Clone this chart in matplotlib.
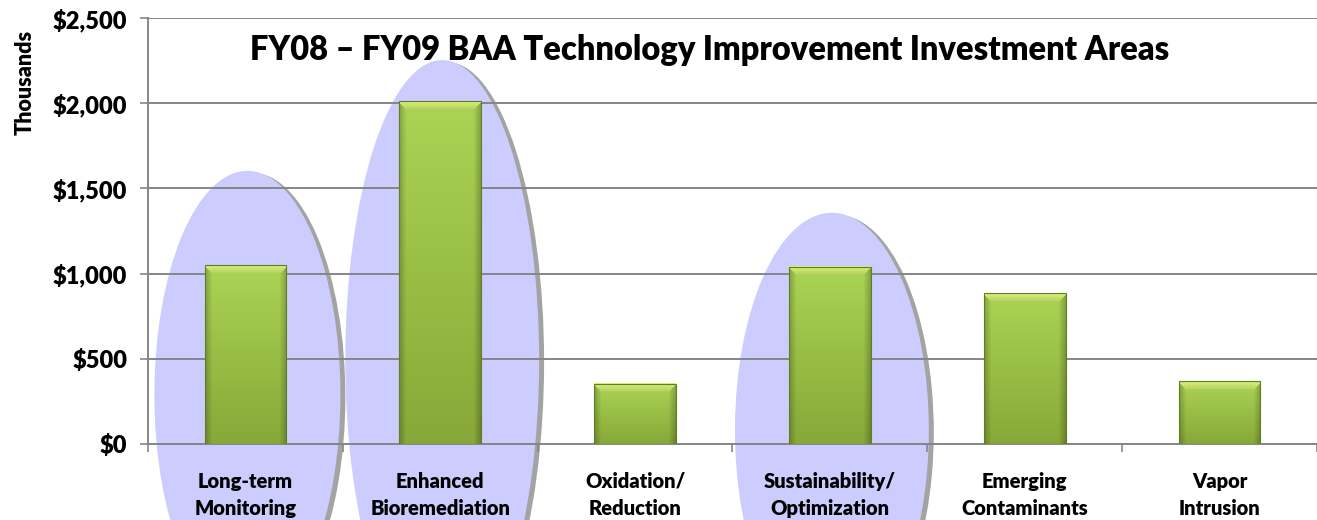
import matplotlib
matplotlib.use("Agg")
import matplotlib.pyplot as plt
import numpy as np
from matplotlib.patches import Ellipse, Rectangle
from matplotlib.ticker import FuncFormatter

plt.rcParams['font.family'] = ['Lato', 'DejaVu Sans']
WEIGHT = 'heavy'

# data (thousands of dollars)
categories = ['Long-term\nMonitoring', 'Enhanced\nBioremediation', 'Oxidation/\nReduction',
              'Sustainability/\nOptimization', 'Emerging\nContaminants', 'Vapor\nIntrusion']
values = [1050, 2010, 355, 1040, 885, 368]
y_ticks = [0, 500, 1000, 1500, 2000, 2500]
title = 'FY08 \u2013 FY09 BAA Technology Improvement Investment Areas'

# highlighted areas: (category index, center value, width in categories, height in value units)
highlights = [(0, 288, 0.955, 2630),
              (1, 493, 0.995, 3520),
              (3, 82, 0.995, 2550)]

W, H, DPI = 1317, 520, 100
fig = plt.figure(figsize=(W / DPI, H / DPI), dpi=DPI, facecolor='white')
ax = fig.add_axes([148 / W, 76 / H, 1 - 148 / W, 426 / H])

grid_col = '#868686'
ell_col = '#ccccff'
shadow_col = '#a3a3a3'

# highlight ellipses with a soft drop shadow on the right
px_x = 1 / 197.0      # category units per pixel
px_y = 2500 / 426.0   # value units per pixel
for idx, cy, w, h in highlights:
    sh = Ellipse((idx + 7 * px_x, cy - 2 * px_y), w, h, facecolor=shadow_col,
                 edgecolor='none', zorder=0.4, clip_on=False)
    ax.add_patch(sh)
    el = Ellipse((idx + 2 * px_x, cy), w, h, facecolor=ell_col, edgecolor='none',
                 zorder=0.5, clip_on=False)
    ax.add_patch(el)


def bar_image(h_px, w_px):
    """Green bar with vertical shade, darker sides and a light bevelled top."""
    h_px = max(int(h_px), 4)
    yy = np.linspace(0, 1, h_px)[:, None, None]
    xx = np.arange(w_px)[None, :, None]
    top = np.array([0.67, 0.83, 0.33])
    bot = np.array([0.53, 0.66, 0.22])
    img = top + (bot - top) * yy
    img = np.broadcast_to(img, (h_px, w_px, 3)).copy()
    side = np.minimum(xx, w_px - 1 - xx)
    shade = np.clip(side / 7.0, 0, 1)
    img *= (0.78 + 0.22 * shade)
    rows = np.arange(h_px)[:, None, None]
    bevel = (rows < 8) & (side >= rows - 1)
    light = np.array([0.84, 0.95, 0.46])
    img = np.where(bevel, light * (0.85 + 0.15 * (1 - rows / 8.0)), img)
    return np.clip(img, 0, 1)


bar_w = 0.42
for i, v in enumerate(values):
    x0, x1 = i - bar_w / 2, i + bar_w / 2
    img = bar_image(v / px_y, int(bar_w / px_x))
    ax.imshow(img, extent=(x0, x1, 0, v), aspect='auto', zorder=3,
              interpolation='bilinear')
    ax.add_patch(Rectangle((x0, 0), bar_w, v, facecolor='none',
                           edgecolor='#5f7d22', linewidth=0.8, zorder=3.5))

ax.set_xlim(-0.5, -0.5 + (W - 148) * px_x)
ax.set_ylim(0, 2500)

ax.set_yticks(y_ticks)
ax.yaxis.set_major_formatter(FuncFormatter(lambda v, p: f'${v:,.0f}'))
ax.yaxis.grid(True, color=grid_col, linewidth=1.4, zorder=2)
ax.set_axisbelow(False)
for line in ax.get_ygridlines():
    line.set_zorder(2)

ax.set_xticks(np.arange(len(categories) + 1) - 0.5)
ax.set_xticklabels([])
ax.set_xticks(np.arange(len(categories)), minor=True)
ax.set_xticklabels(categories, minor=True, fontsize=14.5, fontweight=WEIGHT,
                   linespacing=1.5)
ax.tick_params(axis='x', which='minor', length=0, pad=20)
ax.tick_params(axis='x', which='major', length=6, color=grid_col, width=1.2)
ax.tick_params(axis='y', length=6, color=grid_col, width=1.2, labelsize=17, pad=9)
for lab in ax.get_yticklabels():
    lab.set_fontweight(WEIGHT)

for s in ['top', 'right']:
    ax.spines[s].set_visible(False)
for s in ['left', 'bottom']:
    ax.spines[s].set_color(grid_col)
    ax.spines[s].set_linewidth(1.4)
    ax.spines[s].set_zorder(2)

ax.text((710 - 148) / (W - 148), (444 - 50) / 426, title, transform=ax.transAxes,
        ha='center', va='center', fontsize=23.5, fontweight=WEIGHT, zorder=5)
fig.text(25 / W, 1 - 82 / H, 'Thousands', rotation=90, ha='center', va='center',
         fontsize=15.5, fontweight=WEIGHT)

fig.savefig('out.png', dpi=DPI, facecolor='white')
